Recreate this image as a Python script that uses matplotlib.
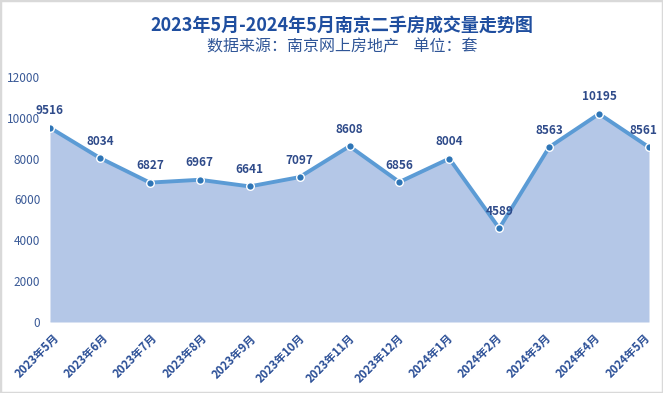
import matplotlib
matplotlib.use("Agg")
import matplotlib.pyplot as plt
from matplotlib.patches import Rectangle
from matplotlib.transforms import ScaledTranslation

plt.rcParams['font.family'] = ['Noto Sans CJK SC', 'DejaVu Sans']

months = ["2023年5月", "2023年6月", "2023年7月", "2023年8月", "2023年9月", "2023年10月",
          "2023年11月", "2023年12月", "2024年1月", "2024年2月", "2024年3月", "2024年4月", "2024年5月"]
volumes = [9516, 8034, 6827, 6967, 6641, 7097, 8608, 6856, 8004, 4589, 8563, 10195, 8561]
yticks = [0, 2000, 4000, 6000, 8000, 10000, 12000]

title = "2023年5月-2024年5月南京二手房成交量走势图"
subtitle = "数据来源：南京网上房地产    单位：套"

W, H = 663, 393
fig = plt.figure(figsize=(W / 100, H / 100), dpi=100)
fig.patch.set_facecolor("white")

left, right = 50 / W, 649 / W
bottom, top = (H - 322) / H, (H - 77) / H
ax = fig.add_axes([left, bottom, right - left, top - bottom])

x = list(range(len(months)))
ax.fill_between(x, volumes, 0, color="#B4C7E7", linewidth=0, zorder=1)
ax.plot(x, volumes, color="#5B9BD5", linewidth=2.8, zorder=2,
        marker="o", markersize=5.5, markerfacecolor="#2E75B6",
        markeredgecolor="white", markeredgewidth=1.0)

n = len(months)
for i, (xi, v) in enumerate(zip(x, volumes)):
    dx_pt = -4 if i == n - 1 else 0
    ax.annotate(f"{v}", (xi, v), xytext=(dx_pt, 7.5), textcoords="offset points",
                ha="center", va="bottom", fontsize=8.5, fontweight="bold",
                color="#2F4B8A", zorder=3, annotation_clip=False)

ax.set_xlim(0, n - 1)
ax.set_ylim(0, 12000)
ax.set_yticks(yticks)
ax.set_yticklabels([str(t) for t in yticks], fontsize=8.5, color="#3A5A97")
ax.set_xticks(x)
ax.set_xticklabels(months, rotation=45, ha="right", va="center",
                   rotation_mode="anchor", fontsize=8.2, fontweight="bold",
                   color="#2A4E96")
ax.tick_params(axis="both", length=0)
ax.tick_params(axis="y", pad=7)
ax.tick_params(axis="x", pad=6)
for i, lab in enumerate(ax.get_xticklabels()):
    dx = 7 - 8 * i / (n - 1)
    lab.set_transform(lab.get_transform() +
                      ScaledTranslation(dx / 100, -6 / 100, fig.dpi_scale_trans))
for s in ax.spines.values():
    s.set_visible(False)
ax.axhline(0, color="#D9D9D9", linewidth=1.0, zorder=0.5)
ax.set_facecolor("none")

fig.text(342 / W, 1 - 25 / H, title, ha="center", va="center",
         fontsize=13, fontweight="bold", color="#1F4E9F")
fig.text(342 / W, 1 - 47 / H, subtitle, ha="center", va="center",
         fontsize=11.5, color="#2F5597")

fig.patches.append(Rectangle((0, 0), 1, 1, transform=fig.transFigure,
                             fill=False, edgecolor="#D9D9D9", linewidth=2.5))

fig.savefig("out.png", dpi=100, facecolor="white")
